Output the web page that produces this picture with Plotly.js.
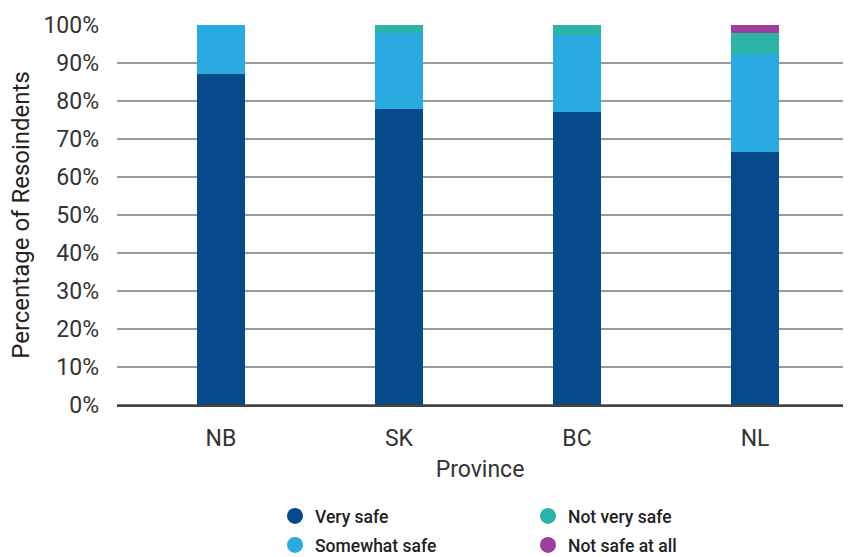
<!DOCTYPE html>
<html><head><meta charset="utf-8">
<script src="https://cdn.plot.ly/plotly-3.0.1.min.js"></script>
<style>html,body{margin:0;padding:0;background:#fff;}#chart{width:850px;height:557px;}</style>
</head><body><div id="chart"></div>
<script>
const provinces = ["NB", "SK", "BC", "NL"];
const verySafe = [87, 78, 77, 66.5];
const somewhatSafe = [13, 20, 20.5, 26];
const notVerySafe = [0, 2, 2.5, 5.5];
const notSafeAtAll = [0, 0, 0, 2];
const seriesNames = ["Very safe", "Somewhat safe", "Not very safe", "Not safe at all"];
const seriesColors = ["#054a8b", "#29abe2", "#2bb5a6", "#9e3f9e"];
const yTicks = [0,10,20,30,40,50,60,70,80,90,100];

const values = [verySafe, somewhatSafe, notVerySafe, notSafeAtAll];
const legendIds = ["legend", "legend2", "legend3", "legend4"];
const traces = [];
values.forEach((v, i) => {
  traces.push({type: "bar", x: provinces, y: v, name: seriesNames[i],
    marker: {color: seriesColors[i], line: {width: 0}}, showlegend: false, hoverinfo: "y"});
});
values.forEach((v, i) => {
  traces.push({type: "scatter", mode: "markers", x: [null], y: [null], name: seriesNames[i],
    marker: {color: seriesColors[i], size: 18, symbol: "circle"}, legend: legendIds[i], showlegend: true});
});

const legFont = {family: "Roboto, sans-serif", size: 17.5, color: "#222", weight: 500};
const mkLeg = (xPix, yPix) => ({x: (xPix - 117) / 726, y: (557 - yPix) / 557, xref: "paper", yref: "container",
  xanchor: "left", yanchor: "middle",
  font: legFont, bgcolor: "rgba(0,0,0,0)", borderwidth: 0, itemwidth: 30});

const layout = {
  width: 850, height: 557,
  margin: {l: 117, r: 7, t: 25, b: 152},
  paper_bgcolor: "#fff", plot_bgcolor: "#fff",
  barmode: "stack", bargap: 0.73,
  font: {family: "Roboto, sans-serif", color: "#333"},
  xaxis: {
    type: "category", range: [-0.584, 3.494],
    showgrid: false, zeroline: false, showline: true, linecolor: "#444", linewidth: 1.5,
    ticks: "", ticklabelstandoff: 12,
    tickfont: {family: "Roboto, sans-serif", size: 23, color: "#333"},
    title: {text: "Province", font: {family: "Roboto, sans-serif", size: 23, color: "#333"}, standoff: 10}
  },
  yaxis: {
    range: [0, 100], tickvals: yTicks, ticktext: yTicks.map(t => t + "%"),
    showgrid: true, gridcolor: "#9a9a9a", gridwidth: 1.2,
    zeroline: false, showline: false, ticks: "", ticklabelstandoff: 17,
    tickfont: {family: "Roboto, sans-serif", size: 23, color: "#333"},
    title: {text: "Percentage of Resoindents", font: {family: "Roboto, sans-serif", size: 24, color: "#222"}, standoff: 6}
  },
  legend: mkLeg(275, 516),
  legend2: mkLeg(275, 545),
  legend3: mkLeg(528, 516),
  legend4: mkLeg(528, 545),
  shapes: [{type: "line", xref: "paper", yref: "y", x0: 0, x1: 1, y0: 0, y1: 0, line: {color: "#444", width: 1.5}}]
};

Plotly.newPlot("chart", traces, layout, {displayModeBar: false, staticPlot: true});
</script></body></html>
